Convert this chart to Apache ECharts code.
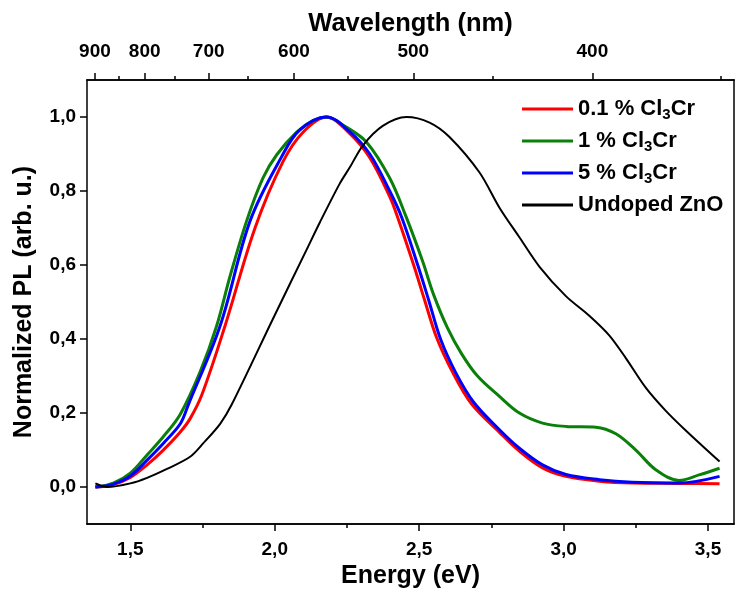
<!DOCTYPE html>
<html>
<head>
<meta charset="utf-8">
<script src="https://cdn.jsdelivr.net/npm/echarts@6/dist/echarts.min.js"></script>
<style>html,body{margin:0;padding:0;background:#fff;}#c{width:737px;height:594px;}</style>
</head>
<body>
<div id="c"></div>
<script>
// ---- data (energy in eV, normalized PL) ----
const seriesNames = ['0.1 % Cl3Cr', '1 % Cl3Cr', '5 % Cl3Cr', 'Undoped ZnO'];

const redE = [1.379,1.441,1.500,1.558,1.614,1.673,1.707,1.748,1.828,1.932,2.029,2.098,2.179,2.260,2.329,2.398,2.426,2.481,2.519,2.560,2.616,2.681,2.778,2.847,2.927,3.008,3.124,3.237,3.400,3.540];
const redV = [0.000,0.007,0.026,0.060,0.100,0.149,0.185,0.250,0.436,0.701,0.880,0.959,1.000,0.955,0.890,0.785,0.728,0.600,0.505,0.405,0.310,0.225,0.148,0.097,0.052,0.029,0.016,0.011,0.010,0.009];

const greenE = [1.379,1.441,1.500,1.558,1.614,1.673,1.742,1.799,1.845,1.903,1.959,2.007,2.076,2.132,2.179,2.243,2.318,2.398,2.456,2.512,2.550,2.598,2.647,2.702,2.778,2.847,2.927,3.008,3.112,3.181,3.250,3.319,3.400,3.469,3.540];
const greenV = [0.000,0.011,0.038,0.087,0.136,0.197,0.312,0.436,0.569,0.720,0.835,0.898,0.959,0.990,1.000,0.975,0.932,0.835,0.728,0.610,0.520,0.430,0.360,0.300,0.245,0.200,0.173,0.164,0.162,0.144,0.100,0.047,0.018,0.033,0.051];

const blueE = [1.379,1.441,1.500,1.558,1.614,1.673,1.701,1.811,1.915,2.024,2.087,2.179,2.260,2.329,2.398,2.440,2.495,2.533,2.574,2.626,2.688,2.778,2.847,2.927,3.008,3.124,3.237,3.400,3.540];
const blueV = [0.000,0.008,0.030,0.073,0.118,0.171,0.223,0.436,0.720,0.893,0.965,1.000,0.960,0.900,0.800,0.728,0.600,0.505,0.400,0.310,0.230,0.155,0.105,0.060,0.034,0.020,0.013,0.011,0.029];

const blackE = [1.379,1.420,1.500,1.558,1.627,1.707,1.752,1.811,1.851,1.994,2.110,2.156,2.225,2.260,2.305,2.374,2.456,2.536,2.605,2.709,2.778,2.847,2.916,3.008,3.089,3.158,3.216,3.285,3.354,3.423,3.540];
const blackV = [0.010,0.000,0.010,0.025,0.049,0.082,0.118,0.171,0.223,0.455,0.641,0.715,0.820,0.864,0.923,0.976,1.000,0.985,0.946,0.850,0.755,0.675,0.596,0.516,0.463,0.410,0.348,0.268,0.206,0.153,0.069];

// ---- axis ticks ----
const energyMajor = [1.5, 2.0, 2.5, 3.0, 3.5];
const energyMinor = [1.75, 2.25, 2.75, 3.25];
const plTicks = [0, 0.2, 0.4, 0.6, 0.8, 1.0];
const wavelengthMajor = [900, 800, 700, 600, 500, 400];
const wavelengthMinor = [850, 750, 650, 550, 450, 350];
const HC = 1239.84;

const E_MIN = 1.35, E_MAX = 3.59;
const FONT = '"Liberation Sans", Arial, sans-serif';

function zip(a, b) { return a.map((v, i) => [v, b[i]]); }
const comma = v => v.toFixed(1).replace('.', ',');

const chart = echarts.init(document.getElementById('c'), null, {renderer: 'canvas'});
const axisLineStyle = {color: '#000', width: 1.5};
const labelStyle = {color: '#000', fontFamily: FONT, fontWeight: 'bold', fontSize: 19};

function xAx(extra) {
  return Object.assign({
    type: 'value', min: E_MIN, max: E_MAX,
    axisLine: {show: true, onZero: false, lineStyle: axisLineStyle},
    splitLine: {show: false},
  }, extra);
}

const option = {
  animation: false,
  backgroundColor: '#fff',
  grid: {left: 87, right: 3, top: 80, bottom: 62, containLabel: false},
  legend: {
    orient: 'vertical', left: 517, top: 91,
    itemWidth: 51, itemHeight: 3, itemGap: 6, icon: 'rect',
    data: seriesNames,
    formatter: function (name) {
      return name.replace('Cl3Cr', 'Cl{s|3}Cr');
    },
    textStyle: {
      color: '#000', fontFamily: FONT, fontWeight: 'bold', fontSize: 22, lineHeight: 26,
      rich: {s: {fontFamily: FONT, fontWeight: 'bold', fontSize: 15, lineHeight: 10, verticalAlign: 'bottom', color: '#000'}}
    }
  },
  xAxis: [
    xAx({
      position: 'bottom',
      name: 'Energy (eV)', nameLocation: 'middle', nameGap: 35,
      nameTextStyle: {color: '#000', fontFamily: FONT, fontWeight: 'bold', fontSize: 25},
      axisTick: {show: true, length: 7, lineStyle: axisLineStyle, customValues: energyMajor},
      axisLabel: Object.assign({margin: 16, customValues: energyMajor, formatter: comma}, labelStyle)
    }),
    xAx({
      position: 'bottom',
      axisTick: {show: true, length: 4, lineStyle: axisLineStyle, customValues: energyMinor},
      axisLabel: {show: false}
    }),
    xAx({
      position: 'top',
      name: 'Wavelength (nm)', nameLocation: 'middle', nameGap: 42,
      nameTextStyle: {color: '#000', fontFamily: FONT, fontWeight: 'bold', fontSize: 25.5},
      axisTick: {show: true, length: 7, lineStyle: axisLineStyle, customValues: wavelengthMajor.map(w => HC / w)},
      axisLabel: Object.assign({margin: 19, customValues: wavelengthMajor.map(w => HC / w),
        formatter: v => String(Math.round(HC / v / 10) * 10)}, labelStyle)
    }),
    xAx({
      position: 'top',
      axisTick: {show: true, length: 4, lineStyle: axisLineStyle, customValues: wavelengthMinor.map(w => HC / w)},
      axisLabel: {show: false}
    })
  ],
  yAxis: [
    {
      type: 'value', min: -0.1, max: 1.1, position: 'left',
      name: 'Normalized PL (arb. u.)', nameLocation: 'middle', nameGap: 50, nameRotate: 90,
      nameTextStyle: {color: '#000', fontFamily: FONT, fontWeight: 'bold', fontSize: 25},
      axisLine: {show: true, onZero: false, lineStyle: axisLineStyle},
      axisTick: {show: true, length: 7, lineStyle: axisLineStyle, customValues: plTicks},
      axisLabel: Object.assign({margin: 11, customValues: plTicks, formatter: comma}, labelStyle),
      splitLine: {show: false}
    },
    {
      type: 'value', min: -0.1, max: 1.1, position: 'right',
      axisLine: {show: true, onZero: false, lineStyle: axisLineStyle},
      axisTick: {show: false}, axisLabel: {show: false}, splitLine: {show: false}
    }
  ],
  series: [
    {name: seriesNames[0], type: 'line', data: zip(redE, redV), color: '#ff0000', lineStyle: {width: 3}, smooth: 0.35, symbol: 'none'},
    {name: seriesNames[1], type: 'line', data: zip(greenE, greenV), color: '#0a800a', lineStyle: {width: 3}, smooth: 0.35, symbol: 'none'},
    {name: seriesNames[2], type: 'line', data: zip(blueE, blueV), color: '#0000ff', lineStyle: {width: 3}, smooth: 0.35, symbol: 'none'},
    {name: seriesNames[3], type: 'line', data: zip(blackE, blackV), color: '#000000', lineStyle: {width: 2}, smooth: 0.3, symbol: 'none'}
  ]
};
chart.setOption(option);
</script>
</body>
</html>
